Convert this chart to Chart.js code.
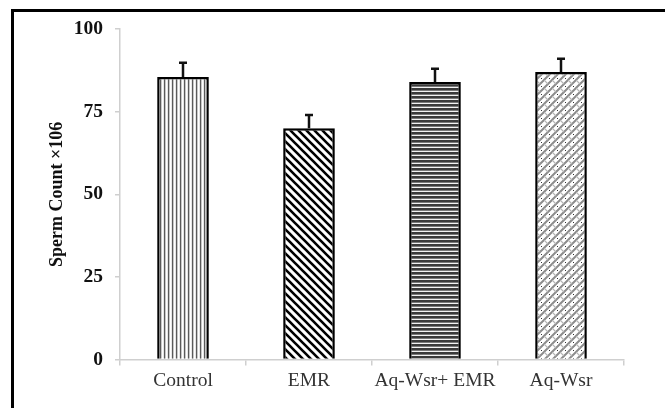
<!DOCTYPE html>
<html>
<head>
<meta charset="utf-8">
<script src="https://cdn.jsdelivr.net/npm/chart.js@4"></script>
<style>
  html, body { margin: 0; padding: 0; background: #fff; }
  #wrap { width: 665px; height: 408px; position: relative; }
</style>
</head>
<body>
<div id="wrap"><canvas id="chartSperm"></canvas></div>
<script>
const groups = ['Control', 'EMR', 'Aq-Wsr+ EMR', 'Aq-Wsr'];
const spermCount = [85.5, 70, 84, 87];
const spermError = [4.3, 4, 4, 4];
const yTicks = [0, 25, 50, 75, 100];

// little tiles used as bar fills
function makePattern(w, h, draw) {
  const c = document.createElement('canvas');
  c.width = w; c.height = h;
  const g = c.getContext('2d');
  g.fillStyle = '#fff';
  g.fillRect(0, 0, w, h);
  draw(g);
  return g.createPattern(c, 'repeat');
}

const vertStripes = makePattern(4, 4, g => {
  g.fillStyle = '#5a5a5a'; g.fillRect(0, 0, 1, 4);
  g.fillStyle = '#c8c8c8'; g.fillRect(1, 0, 1, 4);
  g.fillStyle = '#e6e6e6'; g.fillRect(3, 0, 1, 4);
});

const diagStripes = makePattern(8, 8, g => {
  g.strokeStyle = '#000';
  g.lineWidth = 2.6;
  g.beginPath();
  g.moveTo(-2, -2); g.lineTo(10, 10);
  g.moveTo(-10, -2); g.lineTo(2, 10);
  g.moveTo(6, -2); g.lineTo(18, 10);
  g.stroke();
});

const horizStripes = makePattern(4, 4, g => {
  g.fillStyle = '#3a3a3a'; g.fillRect(0, 0, 4, 2);
  g.fillStyle = '#7a7a7a'; g.fillRect(0, 2, 4, 1);
  g.fillStyle = '#f2f2f2'; g.fillRect(0, 3, 4, 1);
});

const hatch = makePattern(8, 8, g => {
  g.strokeStyle = '#8c8c8c';
  g.lineWidth = 2;
  g.beginPath();
  g.moveTo(-2, 10); g.lineTo(10, -2);
  g.moveTo(-6, 6); g.lineTo(6, -6);
  g.moveTo(2, 14); g.lineTo(14, 2);
  g.stroke();
  g.strokeStyle = '#b4b4b4';
  g.lineWidth = 1.2;
  g.beginPath();
  g.moveTo(0, 0); g.lineTo(4, 4);
  g.stroke();
  g.fillStyle = '#333';
  g.fillRect(5, 6, 1, 1);
});

const framePlugin = {
  id: 'frame',
  beforeDraw: chart => {
    const ctx = chart.ctx;
    ctx.save();
    ctx.fillStyle = '#000';
    ctx.fillRect(11, 9, 3, 408);
    ctx.fillRect(11, 9, 654, 3);
    ctx.restore();
  }
};

const errorBars = {
  id: 'errorBars',
  afterDatasetsDraw: chart => {
    const ctx = chart.ctx;
    const x = chart.scales.x, y = chart.scales.y;
    ctx.save();
    ctx.strokeStyle = '#111';
    ctx.lineWidth = 2.5;
    spermCount.forEach((v, i) => {
      const px = x.getPixelForValue(i);
      const top = y.getPixelForValue(v + spermError[i]);
      const base = y.getPixelForValue(v);
      ctx.beginPath();
      ctx.moveTo(px, base);
      ctx.lineTo(px, top);
      ctx.moveTo(px - 4, top);
      ctx.lineTo(px + 4, top);
      ctx.stroke();
    });
    ctx.restore();
  }
};

const chartSperm = new Chart(document.getElementById('chartSperm'), {
  type: 'bar',
  plugins: [framePlugin, errorBars],
  data: {
    labels: groups,
    datasets: [{
      data: spermCount,
      backgroundColor: [vertStripes, diagStripes, horizStripes, hatch],
      borderColor: '#000',
      borderWidth: 2.5,
      barPercentage: 0.41,
      categoryPercentage: 1
    }]
  },
  options: {
    responsive: true,
    maintainAspectRatio: false,
    animation: false,
    events: [],
    layout: { padding: { left: 40, right: 41, top: 29, bottom: 11 } },
    plugins: { legend: { display: false }, tooltip: { enabled: false } },
    scales: {
      x: {
        grid: { drawOnChartArea: false, tickLength: 6, color: '#cfcfcf', lineWidth: 1.5 },
        border: { color: '#cfcfcf', width: 1.5 },
        ticks: {
          color: '#333',
          padding: 4,
          maxRotation: 0,
          minRotation: 0,
          autoSkip: false,
          font: { family: 'Liberation Serif', size: 19.5 }
        }
      },
      y: {
        min: 0,
        max: 100,
        afterFit: s => { s.width = 80; },
        afterBuildTicks: s => { s.ticks = yTicks.map(v => ({ value: v })); },
        grid: { drawOnChartArea: false, tickLength: 5, color: '#cfcfcf', lineWidth: 1.5 },
        border: { color: '#cfcfcf', width: 1.5 },
        ticks: {
          color: '#111',
          padding: 12,
          font: { family: 'Liberation Serif', size: 19.5, weight: 'bold' }
        },
        title: {
          display: true,
          text: 'Sperm Count ×106',
          color: '#111',
          padding: { top: 7, bottom: 0 },
          font: { family: 'Liberation Serif', size: 18, weight: 'bold' }
        }
      }
    }
  }
});
</script>
</body>
</html>
